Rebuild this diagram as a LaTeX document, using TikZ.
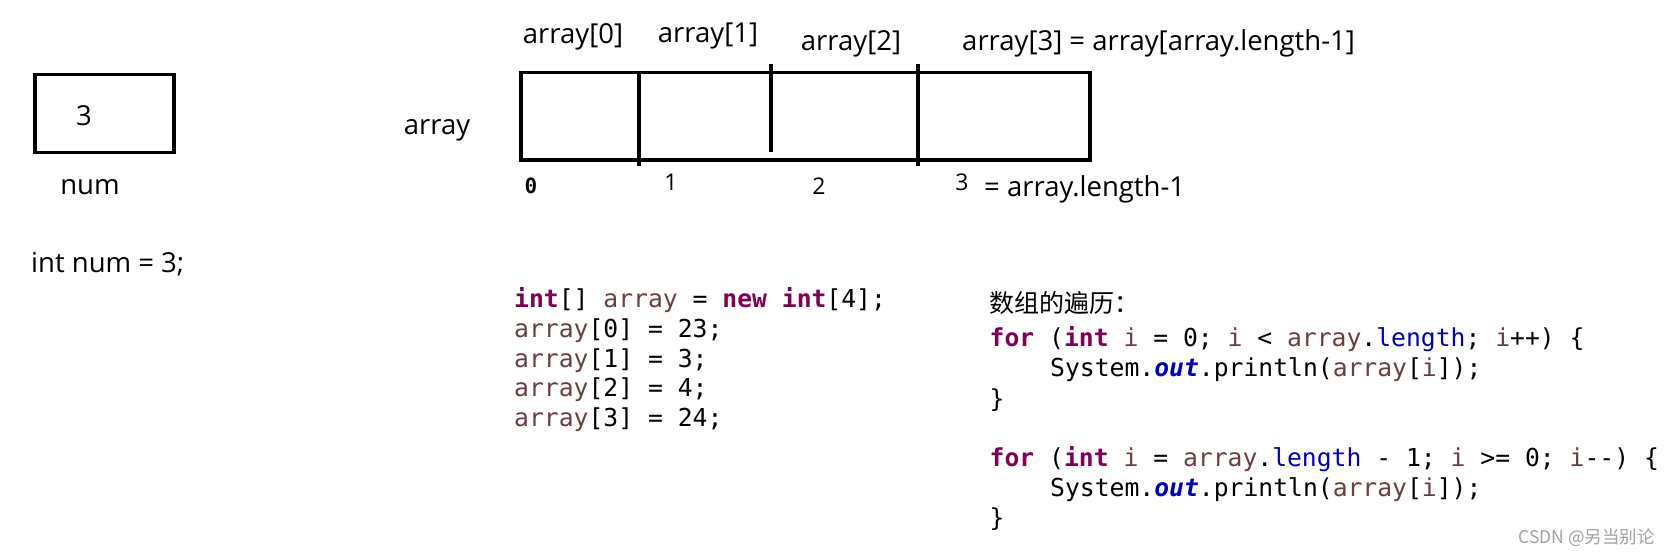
\documentclass[tikz,border=0pt]{standalone}
\usepackage{fontspec}
\setmainfont{Open Sans}
\newfontfamily\codefont{DejaVu Sans Mono}
\newfontfamily\cjk{Noto Sans CJK SC}
\definecolor{kwc}{HTML}{7F0055}
\definecolor{varc}{HTML}{6A3E3E}
\definecolor{fldc}{HTML}{0000C0}
\definecolor{wmc}{HTML}{A0A0A0}
\newcommand\kw[1]{\textcolor{kwc}{\bfseries #1}}
\newcommand\vr[1]{\textcolor{varc}{#1}}
\newcommand\fl[1]{\textcolor{fldc}{#1}}
\newcommand\fli[1]{\textcolor{fldc}{\bfseries\itshape #1}}
\begin{document}
\begin{tikzpicture}[x=1pt,y=-1pt,
  lbl/.style={inner sep=0pt, yshift=-6.5pt, font=\fontsize{27.5}{33}\selectfont, text height=0.72em, text depth=0.22em},
  idx/.style={inner sep=0pt, yshift=-6pt, font=\fontsize{23}{28}\selectfont, text height=0.72em, text depth=0.22em},
  code/.style={inner sep=0pt, yshift=-6.5pt, anchor=west, font=\codefont\fontsize{24.7}{30}\selectfont\frenchspacing, text height=0.75em, text depth=0.25em},
  box/.style={draw, line width=3.2pt, inner sep=0pt},
  divider/.style={line width=3.2pt}]
\useasboundingbox (0,0) rectangle (1672,555);
% scalar variable
\node[box, minimum width=139, minimum height=78] (numbox) at (104.5,113.5) {};
\node[lbl] (numval) at (84,116) {3};
\node[lbl] (numname) at (90,185) {num};
\node[lbl, anchor=west] (numdecl) at (31,263) {int num = 3;};
% array
\node[lbl] (arrname) at (437,125) {array};
\node[box, minimum width=569, minimum height=87.5] (arr) at (805.5,116.25) {};
\draw[divider] (639,72) -- (639,166);
\draw[divider] (771,64) -- (771,152);
\draw[divider] (918,64) -- (918,166);
\node[lbl] (a0) at (573,34) {array[0]};
\node[lbl] (a1) at (708,33) {array[1]};
\node[lbl] (a2) at (851,41) {array[2]};
\node[lbl, anchor=west] (a3) at (962,41) {array[3] = array[array.length-1]};
\node[inner sep=0pt, font=\codefont\bfseries\fontsize{21}{26}\selectfont] (i0) at (531,186) {0};
\node[idx] (i1) at (671,182) {1};
\node[idx] (i2) at (819,186) {2};
\node[idx] (i3) at (962,182) {3};
\node[lbl, anchor=west] (i3b) at (984,187) {= array.length-1};
% code block 1
\node[code] (c1) at (514,298.5) {\kw{int}[] \vr{array} = \kw{new} \kw{int}[4];};
\node[code] (c2) at (514,328.3) {\vr{array}[0] = 23;};
\node[code] (c3) at (514,358) {\vr{array}[1] = 3;};
\node[code] (c4) at (514,387.8) {\vr{array}[2] = 4;};
\node[code] (c5) at (514,417.5) {\vr{array}[3] = 24;};
% code block 2
\node[inner sep=0pt, anchor=west, font=\cjk\fontsize{25}{29}\selectfont] (hdr) at (989.5,303) {数组的遍历：};
\node[code] (d1) at (989.5,337) {\kw{for} (\kw{int} \vr{i} = 0; \vr{i} < \vr{array}.\fl{length}; \vr{i}++) \{};
\node[code] (d2) at (1050,367.5) {System.\fli{out}.println(\vr{array}[\vr{i}]);};
\node[code] (d3) at (989.5,398) {\}};
\node[code] (d4) at (989.5,457.4) {\kw{for} (\kw{int} \vr{i} = \vr{array}.\fl{length} - 1; \vr{i} >= 0; \vr{i}-{}-) \{};
\node[code] (d5) at (1050,487) {System.\fli{out}.println(\vr{array}[\vr{i}]);};
\node[code] (d6) at (989.5,517) {\}};
% watermark
\node[inner sep=0pt, anchor=east, text=wmc, font=\cjk\fontsize{17.5}{21}\selectfont] (wm) at (1655,538) {CSDN @另当别论};
\end{tikzpicture}
\end{document}
